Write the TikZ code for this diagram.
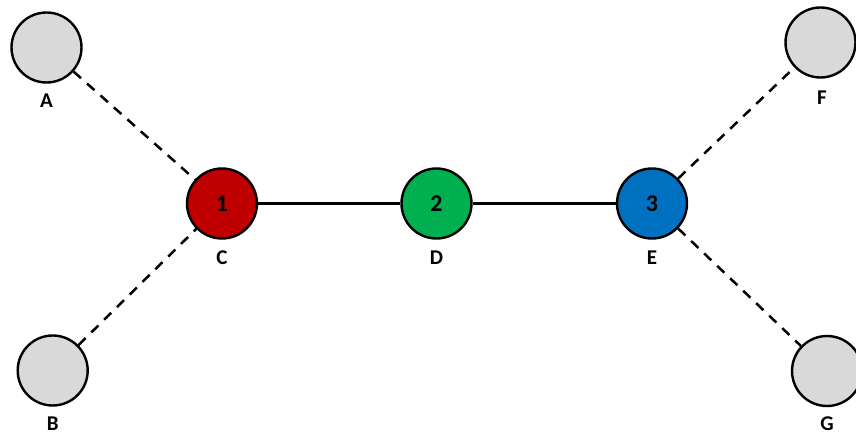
\documentclass[tikz,border=0pt]{standalone}
\usepackage{fontspec}
\setmainfont{Carlito}
\definecolor{cred}{HTML}{C00000}
\definecolor{cgreen}{HTML}{00B050}
\definecolor{cblue}{HTML}{0070C0}
\definecolor{cgray}{HTML}{D9D9D9}
\begin{document}
\begin{tikzpicture}[x=1pt,y=-1pt,
  ball/.style={circle,draw=black,line width=2.4pt,minimum size=70pt,inner sep=0pt,font=\fontsize{24}{28}\selectfont\bfseries},
  lbl/.style={font=\fontsize{21}{24}\selectfont\bfseries,inner sep=0pt},
  dline/.style={line width=2.5pt,dash pattern=on 10pt off 8pt},
  sline/.style={line width=2.3pt}]
\useasboundingbox (0,0) rectangle (856,435);
\node[ball,fill=cgray] (A) at (46.5,47.5) {};
\node[ball,fill=cgray] (B) at (52.7,370.5) {};
\node[ball,fill=cred] (C) at (222,203.5) {1};
\node[ball,fill=cgreen] (D) at (436.5,203.5) {2};
\node[ball,fill=cblue] (E) at (652,203.5) {3};
\node[ball,fill=cgray] (F) at (820.5,42.5) {};
\node[ball,fill=cgray] (G) at (827,371) {};
\node[lbl] (lA) at (46.5,100.5) {A};
\node[lbl] (lB) at (52.7,424) {B};
\node[lbl] (lC) at (222,258) {C};
\node[lbl] (lD) at (436.5,258) {D};
\node[lbl] (lE) at (652,258) {E};
\node[lbl] (lF) at (822,98) {F};
\node[lbl] (lG) at (827,423.5) {G};
\draw[dline] (A) -- (C);
\draw[dline] (B) -- (C);
\draw[dline] (E) -- (F);
\draw[dline] (E) -- (G);
\draw[sline] (C) -- (D);
\draw[sline] (D) -- (E);
\end{tikzpicture}
\end{document}
